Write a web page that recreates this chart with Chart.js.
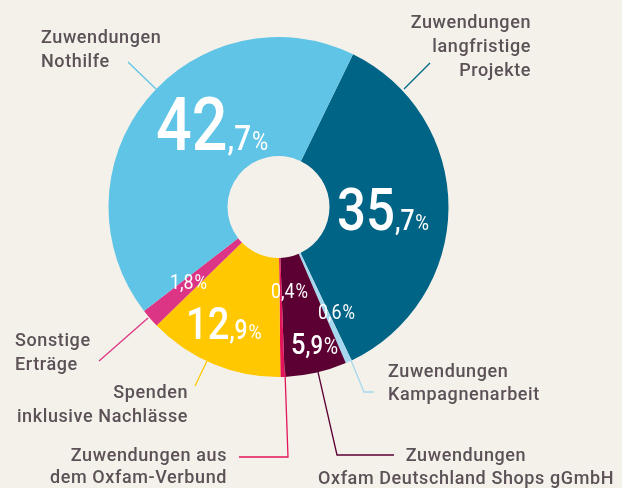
<!DOCTYPE html>
<html><head><meta charset="utf-8">
<script src="https://cdn.jsdelivr.net/npm/chart.js@4"></script>
<style>
html,body{margin:0;padding:0;background:#f4f1ea;}
#wrap{position:relative;width:622px;height:488px;}
</style></head>
<body><div id="wrap"><canvas id="c" width="622" height="488"></canvas></div>
<script>
const categories = ["Zuwendungen langfristige Projekte","Zuwendungen Kampagnenarbeit","Zuwendungen Oxfam Deutschland Shops gGmbH","Zuwendungen aus dem Oxfam-Verbund","Spenden inklusive Nachlässe","Sonstige Erträge","Zuwendungen Nothilfe"];
const values = [35.7, 0.6, 5.9, 0.4, 12.9, 1.8, 42.7];
const colors = ["#006486","#a5d8ee","#5c0034","#e2145a","#ffc800","#dd3585","#5fc4e6"];
const pctLabels = ["35,7%","0,6%","5,9%","0,4%","12,9%","1,8%","42,7%"];

const TXT = "#5b5157";
const FONT = "Roboto, 'Open Sans', sans-serif";

function drawLabel(ctx, lines, x, y, align, lh){
  ctx.save();
  ctx.font = "500 18px " + FONT;
  ctx.fillStyle = TXT;
  ctx.textAlign = align;
  ctx.textBaseline = "alphabetic";
  try{ ctx.letterSpacing = "0.6px"; }catch(e){}
  lines.forEach((l,i)=>ctx.fillText(l, x, y + i*lh));
  ctx.restore();
}
function drawPct(ctx, txt, x, y, big, mid, small, sx, w){
  const m = txt.match(/^(\d+)(,\d+)(%)$/);
  ctx.save();
  ctx.translate(x, y);
  ctx.scale(sx, 1);
  ctx.fillStyle = "#ffffff";
  ctx.textAlign = "left";
  ctx.textBaseline = "alphabetic";
  ctx.font = w + " " + big + "px " + FONT;
  ctx.fillText(m[1], 0, 0);
  let cx = ctx.measureText(m[1]).width;
  ctx.font = w + " " + mid + "px " + FONT;
  ctx.fillText(m[2], cx, 0);
  cx += ctx.measureText(m[2]).width + 1;
  ctx.font = "400 " + small + "px " + FONT;
  ctx.fillText(m[3], cx, 0);
  ctx.restore();
}
function line(ctx, pts, color){
  ctx.save();
  ctx.strokeStyle = color; ctx.lineWidth = 1.3;
  ctx.beginPath();
  pts.forEach((p,i)=> i? ctx.lineTo(p[0],p[1]) : ctx.moveTo(p[0],p[1]));
  ctx.stroke();
  ctx.restore();
}

const annot = {
  id: "annot",
  afterDatasetsDraw(chart){
    const ctx = chart.ctx;
    line(ctx, [[128,62],[156,89]], colors[6]);
    line(ctx, [[430,63],[404,89]], colors[0]);
    line(ctx, [[350,358],[364,392],[374,392]], colors[1]);
    line(ctx, [[318,372],[337,455],[394,455]], colors[2]);
    line(ctx, [[285,372],[288,457],[239,457]], colors[3]);
    line(ctx, [[207,361],[195,386]], colors[4]);
    line(ctx, [[148,318],[99,361]], colors[5]);
    drawLabel(ctx, ["Zuwendungen","Nothilfe"], 41, 43, "left", 24);
    drawLabel(ctx, ["Zuwendungen","langfristige","Projekte"], 531, 28, "right", 24);
    drawLabel(ctx, ["Zuwendungen","Kampagnenarbeit"], 388, 377, "left", 23);
    drawLabel(ctx, ["Zuwendungen","Oxfam Deutschland Shops gGmbH"], 466, 461, "center", 23);
    drawLabel(ctx, ["Zuwendungen aus","dem Oxfam-Verbund"], 227, 461, "right", 22);
    drawLabel(ctx, ["Spenden","inklusive Nachlässe"], 188, 398, "right", 24);
    drawLabel(ctx, ["Sonstige","Erträge"], 15, 346, "left", 24);
    drawPct(ctx, pctLabels[6], 156, 150, 74, 35, 26, 0.85, 500);
    drawPct(ctx, pctLabels[0], 337, 230, 60, 29, 22, 0.85, 500);
    drawPct(ctx, pctLabels[4], 186, 339, 45, 27, 21, 0.85, 500);
    drawPct(ctx, pctLabels[2], 291, 354, 30, 26, 23, 0.85, 500);
    drawPct(ctx, pctLabels[3], 271, 298, 21, 21, 20, 0.85, 400);
    drawPct(ctx, pctLabels[1], 318, 319, 21, 21, 20, 0.85, 400);
    drawPct(ctx, pctLabels[5], 170, 289, 21, 21, 20, 0.85, 400);
  }
};

new Chart(document.getElementById("c"), {
  type: "doughnut",
  data: { labels: categories, datasets: [{ data: values, backgroundColor: colors, borderWidth: 0 }] },
  options: {
    responsive: false,
    animation: false,
    rotation: 26,
    cutout: "30%",
    layout: { padding: { left: 108, right: 173, top: 37, bottom: 111 } },
    plugins: { legend: { display: false }, tooltip: { enabled: false } }
  },
  plugins: [annot]
});
</script></body></html>
